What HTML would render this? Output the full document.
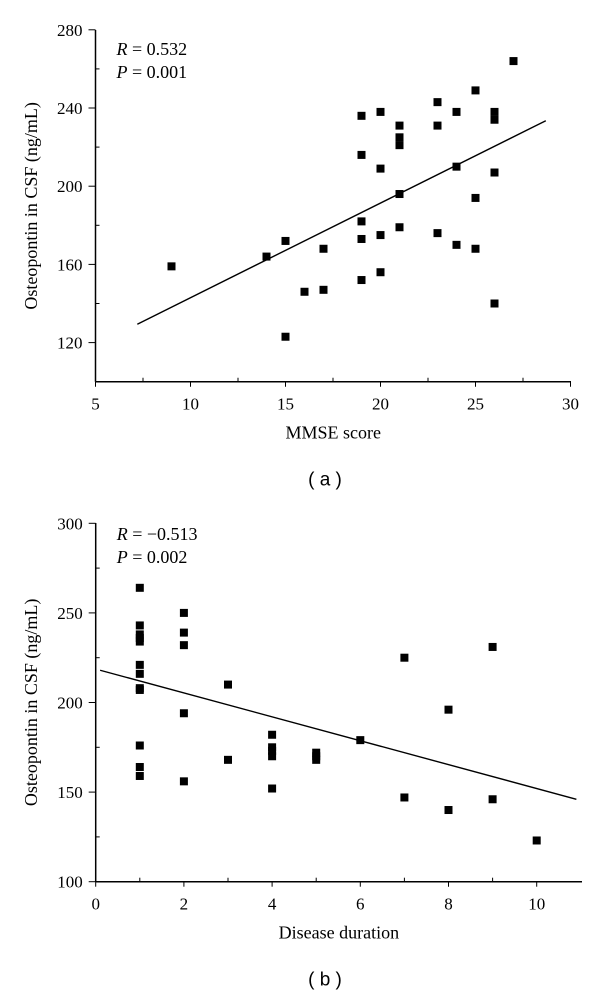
<!DOCTYPE html>
<html><head><meta charset="utf-8"><style>
html,body{margin:0;padding:0;background:#fff;}
svg{display:block;font-family:"Liberation Serif",serif;}
</style></head><body>
<svg id="svg" width="600" height="996" viewBox="0 0 600 996">
<g id="ga"></g>
<g id="gb"></g>
</svg>
<script>
const aX = [9,14,15,15,16,17,17,19,19,19,19,19,20,20,20,20,21,21,21,21,21,23,23,23,24,24,24,25,25,25,26,26,26,26,27];
const aY = [159,164,172,123,146,168,147,236,216,182,173,152,238,209,175,156,231,225,221,196,179,243,231,176,238,210,170,249,194,168,238,234,207,140,264];
const aFitX = [7.2,28.7];
const aFitY = [129.4,233.5];
const aXTicks = [5,10,15,20,25,30];
const aYTicks = [120,160,200,240,280];
const bX = [1,1,1,1,1,1,1,1,1,1,1,1,2,2,2,2,2,3,3,4,4,4,4,4,5,5,5,6,7,7,8,8,9,9,10];
const bY = [264,243,238,236,234,221,216,208,207,176,164,159,250,239,232,194,156,210,168,182,175,173,170,152,172,170,168,179,225,147,196,140,231,146,123];
const bFitX = [0.1,10.9];
const bFitY = [218,146];
const bXTicks = [0,2,4,6,8,10];
const bYTicks = [100,150,200,250,300];
const NS = "http://www.w3.org/2000/svg";
function mk(tag, attrs, parent, txt){
  const e = document.createElementNS(NS, tag);
  for (const k in attrs) e.setAttribute(k, attrs[k]);
  if (txt !== undefined) e.textContent = txt;
  parent.appendChild(e); return e;
}
function drawChart(g, cfg){
  const sx = v => cfg.x0 + (v - cfg.xmin) * cfg.xs;
  const sy = v => cfg.y0 - (v - cfg.ymin) * cfg.ys;
  let e;
  e = mk('line',{x1:cfg.x0,y1:cfg.y0,x2:cfg.xEnd,y2:cfg.y0,stroke:'#000','stroke-width':1.5},g);
   
  e = mk('line',{x1:cfg.x0,y1:cfg.y0,x2:cfg.x0,y2:cfg.yTop,stroke:'#000','stroke-width':1.5},g);
   
  cfg.xt.forEach((v,i)=>{
    const x = sx(v);
    mk('line',{x1:x,y1:cfg.y0,x2:x,y2:cfg.y0+5,stroke:'#000','stroke-width':1},g);
    if (i < cfg.xt.length-1) { const xm = sx(v + cfg.xstep/2); mk('line',{x1:xm,y1:cfg.y0,x2:xm,y2:cfg.y0-4,stroke:'#000','stroke-width':1},g); }
    e = mk('text',{x:x,y:cfg.y0+28,'text-anchor':'middle','font-size':17},g,String(v));
     
  });
  cfg.yt.forEach((v,i)=>{
    const y = sy(v);
    mk('line',{x1:cfg.x0-7,y1:y,x2:cfg.x0,y2:y,stroke:'#000','stroke-width':1},g);
    const ym = sy(v - cfg.ystep/2);
    if (ym < cfg.y0) mk('line',{x1:cfg.x0,y1:ym,x2:cfg.x0+4,y2:ym,stroke:'#000','stroke-width':1},g);
    e = mk('text',{x:cfg.x0-13,y:y+6,'text-anchor':'end','font-size':17},g,String(v));
     
  });
  e = mk('line',{x1:sx(cfg.fx[0]),y1:sy(cfg.fy[0]),x2:sx(cfg.fx[1]),y2:sy(cfg.fy[1]),stroke:'#000','stroke-width':1.4},g);
   
  cfg.px.forEach((v,i)=>{
    e = mk('rect',{x:sx(v)-4,y:sy(cfg.py[i])-4,width:8,height:8,fill:'#000'},g);
     
  });
  e = mk('text',{x:cfg.x0+21,y:cfg.statY,'font-size':18},g);
   
  mk('tspan',{'font-style':'italic'},e,'R'); mk('tspan',{},e,' = '+cfg.r);
  e = mk('text',{x:cfg.x0+21,y:cfg.statY+23,'font-size':18},g);
   
  mk('tspan',{'font-style':'italic'},e,'P'); mk('tspan',{},e,' = '+cfg.p);
  e = mk('text',{x:(cfg.x0+cfg.xEnd)/2,y:cfg.y0+57,'text-anchor':'middle','font-size':18},g,cfg.xtitle);
   
  const cy = (cfg.y0+cfg.yTop)/2;
  e = mk('text',{x:37,y:cy,'text-anchor':'middle','font-size':18,transform:'rotate(-90 37 '+cy+')'},g,'Osteopontin in CSF (ng/mL)');
   
  e = mk('text',{x:325,y:cfg.y0+104,'text-anchor':'middle','font-size':19,'font-family':'Liberation Sans, sans-serif'},g,cfg.label);
   
}
drawChart(document.getElementById('ga'),{x0:95.5,y0:381.7,xmin:5,ymin:100,xs:19,ys:1.955,xEnd:571,yTop:30,
  xt:aXTicks,yt:aYTicks,xstep:5,ystep:40,fx:aFitX,fy:aFitY,px:aX,py:aY,r:'0.532',p:'0.001',statY:55,xtitle:'MMSE score',label:'( a )'});
drawChart(document.getElementById('gb'),{x0:95.7,y0:881.7,xmin:0,ymin:100,xs:44.1,ys:1.792,xEnd:582,yTop:523,
  xt:bXTicks,yt:bYTicks,xstep:2,ystep:50,fx:bFitX,fy:bFitY,px:bX,py:bY,r:'\u22120.513',p:'0.002',statY:540,xtitle:'Disease duration',label:'( b )'});
</script>
</body></html>
